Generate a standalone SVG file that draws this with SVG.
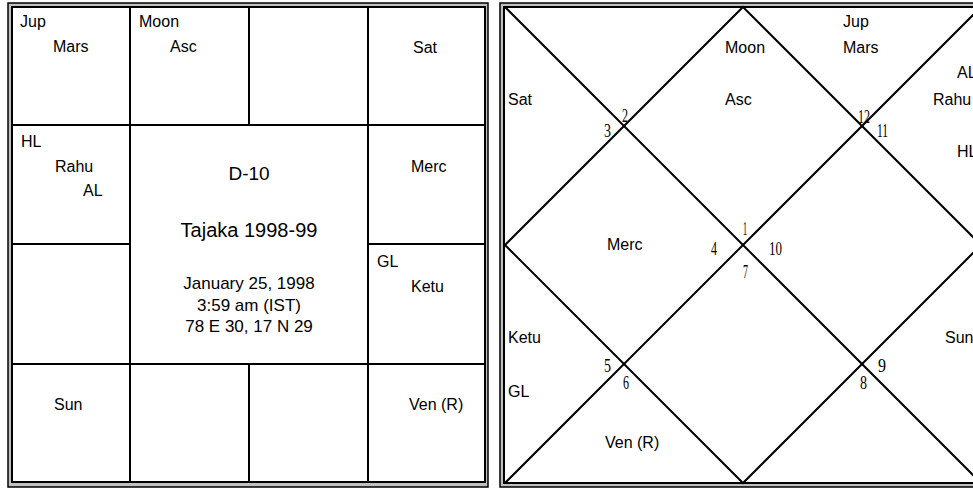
<svg xmlns="http://www.w3.org/2000/svg" width="973" height="489" viewBox="0 0 973 489">
<style>
.lbl{font-family:"Liberation Sans",Arial,sans-serif;font-size:16px;fill:#000}
.ctr{font-family:"Liberation Sans",Arial,sans-serif;fill:#000;text-anchor:middle}
.num{font-family:"Liberation Serif","Times New Roman",serif;font-size:18px;fill:#000}
.ln{stroke:#000;stroke-width:2;fill:none}
.outer{fill:#c0c0c0;stroke:#000;stroke-width:1.5}
.inner{fill:#fff;stroke:#000;stroke-width:2}
</style>
<rect width="973" height="489" fill="#fff"/>
<g id="south-chart-frame">
<rect class="outer" x="8" y="3" width="480" height="484"/>
<rect class="inner" x="12" y="7" width="473" height="475"/>
</g>
<g id="south-grid">
<line class="ln" x1="12" y1="125" x2="485" y2="125"/>
<line class="ln" x1="12" y1="364" x2="485" y2="364"/>
<line class="ln" x1="12" y1="244" x2="130" y2="244"/>
<line class="ln" x1="368" y1="244" x2="485" y2="244"/>
<line class="ln" x1="130" y1="7" x2="130" y2="482"/>
<line class="ln" x1="368" y1="7" x2="368" y2="482"/>
<line class="ln" x1="249" y1="7" x2="249" y2="125"/>
<line class="ln" x1="249" y1="364" x2="249" y2="482"/>
</g>
<g id="s-cell-1"><text class="lbl" x="20" y="27">Jup</text><text class="lbl" x="53" y="52">Mars</text></g>
<g id="s-cell-2"><text class="lbl" x="139" y="27">Moon</text><text class="lbl" x="170" y="52">Asc</text></g>
<g id="s-cell-3"></g>
<g id="s-cell-4"><text class="lbl" x="413" y="53">Sat</text></g>
<g id="s-cell-5"><text class="lbl" x="21" y="147">HL</text><text class="lbl" x="55" y="172">Rahu</text><text class="lbl" x="83" y="196">AL</text></g>
<g id="s-cell-6"><text class="lbl" x="411" y="172">Merc</text></g>
<g id="s-cell-7"></g>
<g id="s-cell-8"><text class="lbl" x="377" y="267">GL</text><text class="lbl" x="411" y="292">Ketu</text></g>
<g id="s-cell-9"><text class="lbl" x="54" y="410">Sun</text></g>
<g id="s-cell-10"></g>
<g id="s-cell-11"></g>
<g id="s-cell-12"><text class="lbl" x="409" y="410">Ven (R)</text></g>
<g id="s-center">
<text class="ctr" x="249" y="180" font-size="19">D-10</text>
<text class="ctr" x="249" y="237" font-size="20">Tajaka 1998-99</text>
<text class="ctr" x="249" y="289" font-size="17">January 25, 1998</text>
<text class="ctr" x="249" y="311" font-size="17">3:59 am (IST)</text>
<text class="ctr" x="249" y="332" font-size="17">78 E 30, 17 N 29</text>
</g>
<g id="north-chart-frame">
<rect class="outer" x="500" y="3" width="485" height="484"/>
<rect class="inner" x="504" y="7" width="477" height="476"/>
</g>
<g id="north-lines">
<line class="ln" x1="505" y1="7" x2="981" y2="483"/>
<line class="ln" x1="981" y1="7" x2="505" y2="483"/>
<polygon class="ln" points="743,7 981,245 743,483 505,245"/>
</g>
<g id="house-1"><text class="lbl" x="725" y="53">Moon</text><text class="lbl" x="725" y="105">Asc</text><text class="num" x="743" y="235" textLength="4" lengthAdjust="spacingAndGlyphs">1</text></g>
<g id="house-2"><text class="num" x="622" y="122" textLength="6" lengthAdjust="spacingAndGlyphs">2</text></g>
<g id="house-3"><text class="lbl" x="508" y="105">Sat</text><text class="num" x="604" y="137" textLength="7" lengthAdjust="spacingAndGlyphs">3</text></g>
<g id="house-4"><text class="lbl" x="607" y="250">Merc</text><text class="num" x="711" y="255" textLength="6" lengthAdjust="spacingAndGlyphs">4</text></g>
<g id="house-5"><text class="lbl" x="508" y="343">Ketu</text><text class="lbl" x="508" y="397">GL</text><text class="num" x="604" y="372" textLength="7" lengthAdjust="spacingAndGlyphs">5</text></g>
<g id="house-6"><text class="lbl" x="605" y="448">Ven (R)</text><text class="num" x="623" y="389" textLength="6" lengthAdjust="spacingAndGlyphs">6</text></g>
<g id="house-7"><text class="num" x="743" y="278" textLength="5" lengthAdjust="spacingAndGlyphs">7</text></g>
<g id="house-8"><text class="num" x="860" y="389" textLength="7" lengthAdjust="spacingAndGlyphs">8</text></g>
<g id="house-9"><text class="lbl" x="945" y="343">Sun</text><text class="num" x="878" y="372" textLength="8" lengthAdjust="spacingAndGlyphs">9</text></g>
<g id="house-10"><text class="num" x="769" y="255" textLength="13" lengthAdjust="spacingAndGlyphs">10</text></g>
<g id="house-11"><text class="lbl" x="957" y="78">AL</text><text class="lbl" x="933" y="105">Rahu</text><text class="lbl" x="957" y="157">HL</text><text class="num" x="877" y="137" textLength="11" lengthAdjust="spacingAndGlyphs">11</text></g>
<g id="house-12"><text class="lbl" x="843" y="27">Jup</text><text class="lbl" x="843" y="53">Mars</text><text class="num" x="858" y="123" textLength="12" lengthAdjust="spacingAndGlyphs">12</text></g>
</svg>
